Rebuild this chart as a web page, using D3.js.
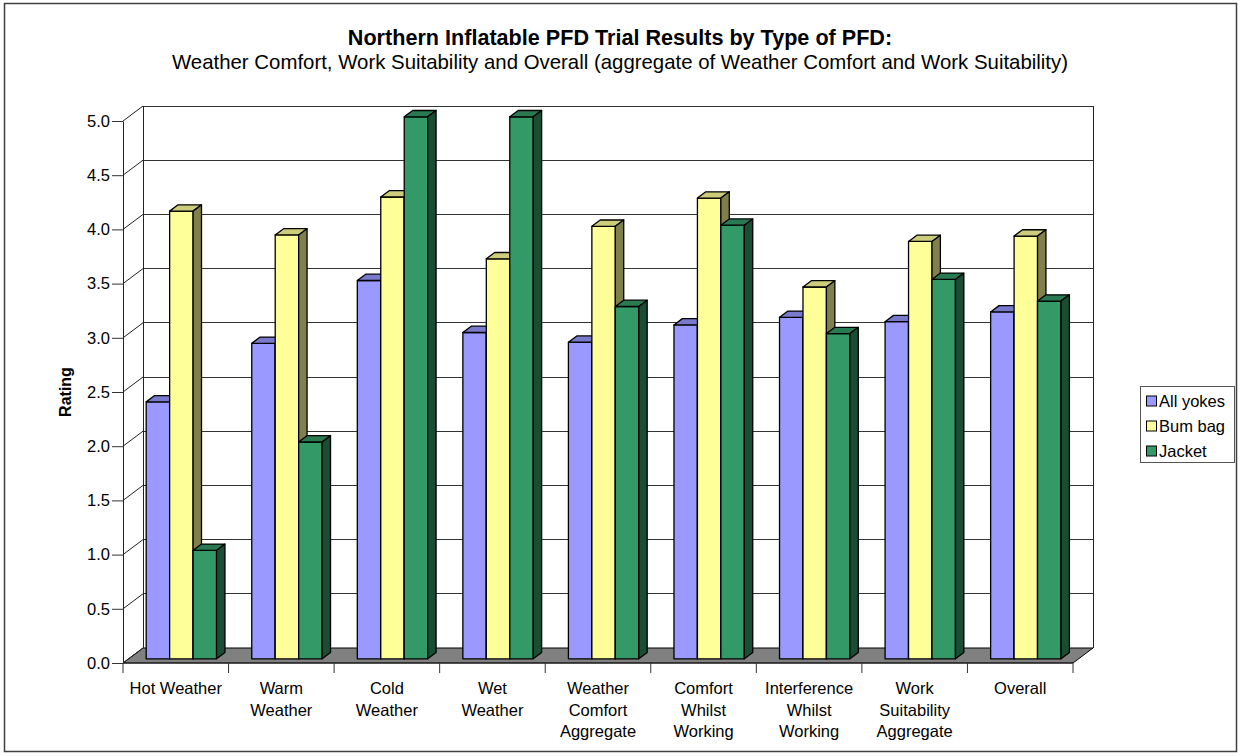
<!DOCTYPE html>
<html>
<head>
<meta charset="utf-8">
<script src="https://cdn.jsdelivr.net/npm/d3@7/dist/d3.min.js"></script>
<style>
  html, body { margin: 0; padding: 0; background: #fff; }
  svg { display: block; font-family: "Liberation Sans", Arial, sans-serif; }
</style>
</head>
<body>
<svg id="chart" width="1240" height="756"></svg>
<script>
// PFD trial ratings by type of PFD
const categories = [
  "Hot Weather",
  "Warm\nWeather",
  "Cold\nWeather",
  "Wet\nWeather",
  "Weather\nComfort\nAggregate",
  "Comfort\nWhilst\nWorking",
  "Interference\nWhilst\nWorking",
  "Work\nSuitability\nAggregate",
  "Overall"
];
const seriesNames = ["All yokes", "Bum bag", "Jacket"];
const allYokes = [2.37, 2.91, 3.49, 3.01, 2.92, 3.08, 3.15, 3.11, 3.20];
const bumBag   = [4.13, 3.91, 4.26, 3.69, 3.99, 4.25, 3.43, 3.85, 3.90];
const jacket   = [1.00, 2.00, 5.00, 5.00, 3.25, 4.00, 3.00, 3.50, 3.30];
const yTicks = [0, 0.5, 1, 1.5, 2, 2.5, 3, 3.5, 4, 4.5, 5];

const seriesValues = [allYokes, bumBag, jacket];
const colors = ["#9999FF", "#FFFF99", "#339966"];

const svg = d3.select("#chart");

// outer frame
svg.append("rect")
  .attr("x", 4.5).attr("y", 3.5).attr("width", 1232).attr("height", 748)
  .attr("fill", "#fff").attr("stroke", "#404040").attr("stroke-width", 1.5);

// titles
svg.append("text")
  .attr("x", 620).attr("y", 45).attr("text-anchor", "middle")
  .attr("font-size", 21.6).attr("font-weight", "bold")
  .text("Northern Inflatable PFD Trial Results by Type of PFD:");
svg.append("text")
  .attr("x", 620).attr("y", 69).attr("text-anchor", "middle")
  .attr("font-size", 20.4)
  .text("Weather Comfort, Work Suitability and Overall (aggregate of Weather Comfort and Work Suitability)");

// 3D geometry: front plane scales, with a depth offset towards the back wall
const x = d3.scaleBand().domain(categories).range([123, 1073]).paddingInner(0).paddingOuter(0);
const xs = d3.scaleBand().domain(seriesNames).range([0, x.bandwidth()]).paddingInner(0).paddingOuter(0.75);
const y = d3.scaleLinear().domain([0, 5]).range([663, 121]);
const DX = 20, DY = -15;           // full depth of the plot box
const F0 = 0.28, F1 = 0.70;        // bar front / back as fraction of depth

const x0 = x.range()[0], x1 = x.range()[1];

// floor
const gFloor = svg.append("g");
gFloor.append("path")
  .attr("d", `M${x0},${y(0)} L${x0 + DX},${y(0) + DY} L${x1 + DX},${y(0) + DY} L${x1},${y(0)} Z`)
  .attr("fill", "#808080").attr("stroke", "#000").attr("stroke-width", 1);

// back wall gridlines and left wall diagonals
const gGrid = svg.append("g").attr("shape-rendering", "crispEdges");
gGrid.selectAll("line.grid").data(yTicks.filter(d => d > 0)).join("line")
  .attr("class", "grid")
  .attr("x1", x0 + DX).attr("x2", x1 + DX)
  .attr("y1", d => y(d) + DY).attr("y2", d => y(d) + DY)
  .attr("stroke", "#333").attr("stroke-width", 1);
svg.append("g").selectAll("line").data(yTicks).join("line")
  .attr("x1", x0).attr("y1", d => y(d))
  .attr("x2", x0 + DX).attr("y2", d => y(d) + DY)
  .attr("stroke", "#222").attr("stroke-width", 1);
// back wall edges
gGrid.append("line")
  .attr("x1", x0 + DX).attr("x2", x0 + DX).attr("y1", y(5) + DY).attr("y2", y(0) + DY)
  .attr("stroke", "#222");
gGrid.append("line")
  .attr("x1", x1 + DX).attr("x2", x1 + DX).attr("y1", y(5) + DY).attr("y2", y(0) + DY)
  .attr("stroke", "#222");

// bars
const shade = (c, k) => { const r = d3.rgb(c); return d3.rgb(r.r * k, r.g * k, r.b * k).formatHex(); };
const gBars = svg.append("g").attr("stroke", "#000").attr("stroke-width", 1.3).attr("stroke-linejoin", "round");
categories.forEach((cat, ci) => {
  seriesValues.forEach((vals, si) => {
    const v = vals[ci];
    const bx = x(cat) + xs(seriesNames[si]) + DX * F0;
    const bw = xs.bandwidth();
    const yb = y(0) + DY * F0;
    const yt = y(v) + DY * F0;
    const ddx = DX * (F1 - F0), ddy = DY * (F1 - F0);
    const g = gBars.append("g");
    // front face
    g.append("rect").attr("x", bx).attr("y", yt).attr("width", bw).attr("height", yb - yt)
      .attr("fill", colors[si]);
    // top face
    g.append("path")
      .attr("d", `M${bx},${yt} L${bx + ddx},${yt + ddy} L${bx + bw + ddx},${yt + ddy} L${bx + bw},${yt} Z`)
      .attr("fill", shade(colors[si], 0.8));
    // side face
    g.append("path")
      .attr("d", `M${bx + bw},${yt} L${bx + bw + ddx},${yt + ddy} L${bx + bw + ddx},${yb + ddy} L${bx + bw},${yb} Z`)
      .attr("fill", shade(colors[si], 0.5));
  });
});

// value axis
const yAxis = svg.append("g")
  .attr("transform", `translate(${x0},0)`)
  .call(d3.axisLeft(y).tickValues(yTicks).tickFormat(d3.format(".1f")).tickSize(11).tickSizeOuter(0).tickPadding(2));
yAxis.select(".domain").attr("stroke", "#222");
yAxis.selectAll(".tick line").attr("stroke", "#333");
yAxis.selectAll(".tick text").attr("font-size", 16.5).attr("fill", "#000")
  .attr("font-family", "'Liberation Sans', Arial, sans-serif");

// category axis: front floor edge, ticks at category boundaries, wrapped labels
svg.append("line").attr("x1", x0).attr("x2", x1).attr("y1", y(0)).attr("y2", y(0))
  .attr("stroke", "#222");
const bounds = categories.map(c => x(c)).concat([x1]);
svg.append("g").selectAll("line").data(bounds).join("line")
  .attr("x1", d => d).attr("x2", d => d).attr("y1", y(0)).attr("y2", y(0) + 10)
  .attr("stroke", "#333");
const labels = svg.append("g").attr("font-size", 16.5).attr("text-anchor", "middle");
categories.forEach(cat => {
  const t = labels.append("text").attr("x", x(cat) + x.bandwidth() / 2).attr("y", 694);
  cat.split("\n").forEach((line, i) => {
    t.append("tspan").attr("x", x(cat) + x.bandwidth() / 2).attr("dy", i === 0 ? 0 : 21.5).text(line);
  });
});

// axis title
svg.append("text")
  .attr("transform", "translate(71,392) rotate(-90)")
  .attr("text-anchor", "middle").attr("font-size", 16).attr("font-weight", "bold")
  .text("Rating");

// legend
const legend = svg.append("g");
legend.append("rect").attr("x", 1140.5).attr("y", 386.5).attr("width", 94).attr("height", 76)
  .attr("fill", "#fff").attr("stroke", "#555").attr("stroke-width", 1);
seriesNames.forEach((name, i) => {
  const cy = 401 + i * 25;
  legend.append("rect").attr("x", 1146.5).attr("y", cy - 5).attr("width", 10).attr("height", 10)
    .attr("fill", colors[i]).attr("stroke", "#000").attr("stroke-width", 1);
  legend.append("text").attr("x", 1159).attr("y", cy + 6).attr("font-size", 16.5).text(name);
});
</script>
</body>
</html>
